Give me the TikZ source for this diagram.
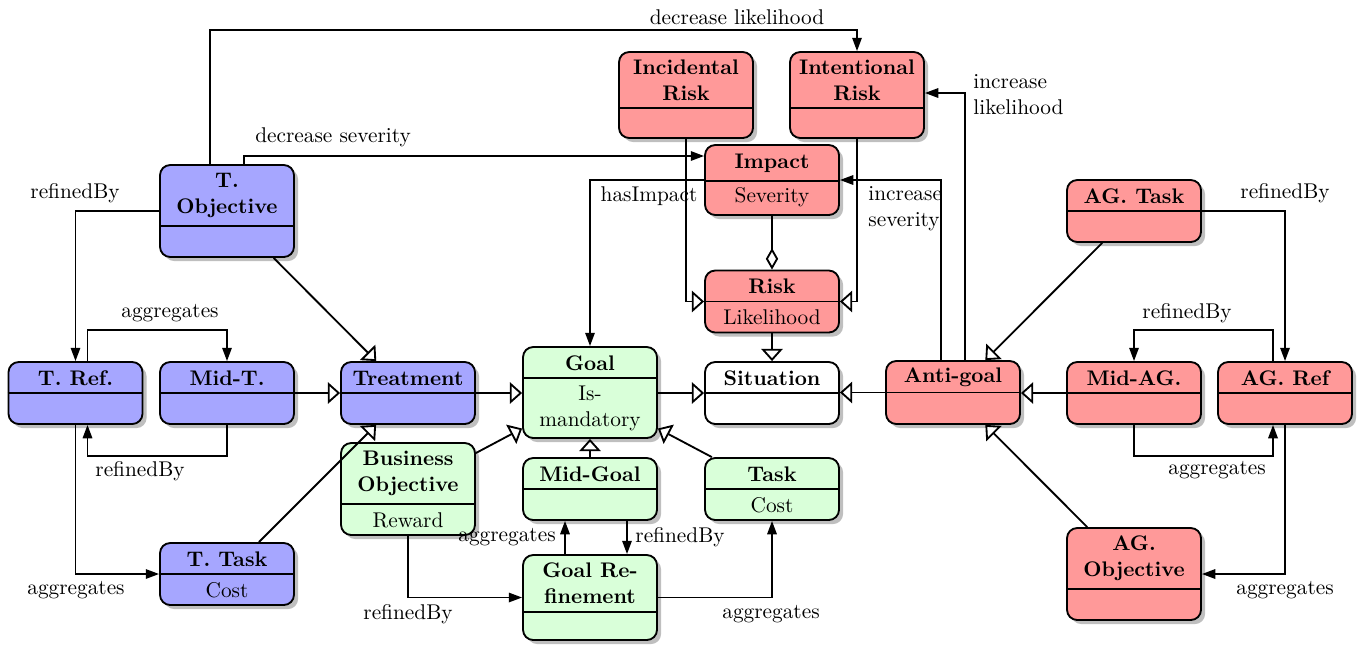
\documentclass[tikz,border=0pt]{standalone}
\usetikzlibrary{arrows.meta,shadows,calc}
\begin{document}
\begin{tikzpicture}[
 x=0.4878pt, y=-0.4878pt,
 every node/.append style={font=\fontsize{10.4}{12.6}\selectfont},
 ubox/.style={draw, line width=0.9pt, rounded corners=5pt, fill=#1, inner sep=0pt,
   drop shadow={shadow xshift=2pt, shadow yshift=-2pt, fill=black, opacity=0.25}},
 sz/.style 2 args={minimum width={#1*0.4878pt}, minimum height={#2*0.4878pt}},
 divl/.style={line width=0.9pt},
 ttl/.style={font=\fontsize{10.3}{12.6}\selectfont\bfseries, align=center, inner sep=0pt},
 attr/.style={align=center, inner sep=0pt},
 lbl/.style={inner sep=0pt},
 conn/.style={line width=0.9pt},
 arr/.style={conn, -{Triangle[length=6.5pt,width=4.6pt]}},
 gen/.style={conn, -{Triangle[length=6pt,width=10.5pt,fill=white]}},
 agg/.style={conn, -{Diamond[length=10.5pt,width=6pt,fill=white]}},
]
\useasboundingbox (0,0) rectangle (1369,646);

% ---------- boxes ----------
\node[ubox=blue!35, sz={134}{92}] (tobj) at (227,211) {};
\node[ubox=blue!35, sz={134}{62}] (tref) at (75.5,393) {};
\node[ubox=blue!35, sz={134}{62}] (midt) at (227,393) {};
\node[ubox=blue!35, sz={134}{62}] (treat) at (408,393) {};
\node[ubox=blue!35, sz={134}{62}] (ttask) at (227,574) {};

\node[ubox=green!15, sz={134}{91}] (goal) at (590,392.5) {};
\node[ubox=green!15, sz={134}{92}] (bo) at (408,489) {};
\node[ubox=green!15, sz={134}{62}] (midgoal) at (590,489) {};
\node[ubox=green!15, sz={134}{62}] (task) at (772,489) {};
\node[ubox=green!15, sz={134}{85}] (goalref) at (590,597.5) {};

\node[ubox=white, sz={134}{62}] (sit) at (772,393) {};

\node[ubox=red!40, sz={134}{86}] (incrisk) at (686,95) {};
\node[ubox=red!40, sz={134}{86}] (intrisk) at (857,95) {};
\node[ubox=red!40, sz={134}{70}] (impact) at (772,180) {};
\node[ubox=red!40, sz={134}{62}] (risk) at (772,301.5) {};
\node[ubox=red!40, sz={134}{62}] (agtask) at (1134,211) {};
\node[ubox=red!40, sz={134}{63}] (ag) at (953,392.5) {};
\node[ubox=red!40, sz={134}{62}] (midag) at (1134,393) {};
\node[ubox=red!40, sz={134}{62}] (agref) at (1285,393) {};
\node[ubox=red!40, sz={134}{92}] (agobj) at (1134,574) {};

% ---------- dividers ----------
\draw[divl] (tobj.west |- 0,226) -- (tobj.east |- 0,226);
\draw[divl] (tref.west) -- (tref.east);
\draw[divl] (midt.west) -- (midt.east);
\draw[divl] (treat.west) -- (treat.east);
\draw[divl] (ttask.west) -- (ttask.east);
\draw[divl] (goal.west |- 0,378) -- (goal.east |- 0,378);
\draw[divl] (bo.west |- 0,504) -- (bo.east |- 0,504);
\draw[divl] (midgoal.west) -- (midgoal.east);
\draw[divl] (task.west) -- (task.east);
\draw[divl] (goalref.west |- 0,612) -- (goalref.east |- 0,612);
\draw[divl] (sit.west) -- (sit.east);
\draw[divl] (incrisk.west |- 0,108) -- (incrisk.east |- 0,108);
\draw[divl] (intrisk.west |- 0,108) -- (intrisk.east |- 0,108);
\draw[divl] (impact.west |- 0,181) -- (impact.east |- 0,181);
\draw[divl] (risk.west) -- (risk.east);
\draw[divl] (agtask.west) -- (agtask.east);
\draw[divl] (ag.west) -- (ag.east);
\draw[divl] (midag.west) -- (midag.east);
\draw[divl] (agref.west) -- (agref.east);
\draw[divl] (agobj.west |- 0,589) -- (agobj.east |- 0,589);

% ---------- texts ----------
\node[ttl] (tobj-t) at (227,195.5) {T.\\Objective};
\node[ttl] (tref-t) at (75.5,378) {T. Ref.};
\node[ttl] (midt-t) at (227,378) {Mid-T.};
\node[ttl] (treat-t) at (408,378) {Treatment};
\node[ttl] (ttask-t) at (227,559) {T. Task};
\node[attr] (ttask-a) at (227,590) {Cost};
\node[ttl] (goal-t) at (590,363) {Goal};
\node[attr] (goal-a) at (590,408) {Is-\\mandatory};
\node[ttl] (bo-t) at (408,473.5) {Business\\Objective};
\node[attr] (bo-a) at (408,520) {Reward};
\node[ttl] (midgoal-t) at (590,474) {Mid-Goal};
\node[ttl] (task-t) at (772,474) {Task};
\node[attr] (task-a) at (772,505) {Cost};
\node[ttl] (goalref-t) at (590,583.5) {Goal Re-\\finement};
\node[ttl] (sit-t) at (772,378) {Situation};
\node[ttl] (incrisk-t) at (686,80) {Incidental\\Risk};
\node[ttl] (intrisk-t) at (857,80) {Intentional\\Risk};
\node[ttl] (impact-t) at (772,163) {Impact};
\node[attr] (impact-a) at (772,197) {Severity};
\node[ttl] (risk-t) at (772,286.5) {Risk};
\node[attr] (risk-a) at (772,317) {Likelihood};
\node[ttl] (agtask-t) at (1134,196) {AG. Task};
\node[ttl] (ag-t) at (953,377.5) {Anti-goal};
\node[ttl] (midag-t) at (1134,378) {Mid-AG.};
\node[ttl] (agref-t) at (1285,378) {AG. Ref};
\node[ttl] (agobj-t) at (1134,558.5) {AG.\\Objective};

% ---------- connectors ----------
\draw[arr] ($(tobj.north)+(-17,0)$) -- ++(0,-134) -| (intrisk.north);
\draw[arr] ($(tobj.north)+(17,0)$) |- ($(impact.west)+(0,-24)$);
\draw[arr] (tobj.west) -| (tref.north);
\draw[gen] (tobj) -- (treat);
\draw[gen] (ttask) -- (treat);
\draw[arr] ($(tref.north)+(12,0)$) -- ++(0,-31) -| (midt.north);
\draw[arr] (midt.south) -- ++(0,31) -| ($(tref.south)+(12,0)$);
\draw[arr] (tref.south) |- (ttask.west);
\draw[gen] (midt.east) -- (treat.west);
\draw[gen] (treat.east) -- (goal.west |- treat.east);
\draw[gen] (goal.east |- sit.west) -- (sit.west);
\draw[gen] (ag.west) -- (sit.east |- ag.west);
\draw[gen] (midag.west) -- (ag.east |- midag.west);
\draw[gen] (bo) -- (goal);
\draw[gen] (task) -- (goal);
\draw[gen] (midgoal) -- (goal);
\draw[arr] ($(goalref.north)+(-25,0)$) -- ($(midgoal.south)+(-25,0)$);
\draw[arr] ($(midgoal.south)+(37,0)$) -- ($(goalref.north)+(37,0)$);
\draw[arr] (bo.south) |- (goalref.west);
\draw[arr] (goalref.east) -| (task.south);
\draw[arr] (impact.west) -| (goal.north);
\draw[gen] (incrisk.south) |- (risk.west);
\draw[gen] (intrisk.south) |- (risk.east);
\draw[agg] (impact.south) -- (risk.north);
\draw[gen] (risk.south) -- (sit.north);
\draw[arr] ($(ag.north)+(12,0)$) |- ($(intrisk.east)+(0,-2)$);
\draw[arr] ($(ag.north)+(-12,0)$) |- (impact.east);
\draw[gen] (agtask) -- (ag);
\draw[gen] (agobj) -- (ag);
\draw[arr] (agtask.east) -| (agref.north);
\draw[arr] ($(agref.north)+(-12,0)$) -- ++(0,-31) -| (midag.north);
\draw[arr] (midag.south) -- ++(0,31) -| ($(agref.south)+(-12,0)$);
\draw[arr] (agref.south) |- (agobj.east);

% ---------- labels ----------
\node[lbl] (l1) at (737,17) {decrease likelihood};
\node[lbl] (l2) at (333,137) {decrease severity};
\node[lbl] (l3) at (75,193) {refinedBy};
\node[lbl] (l4) at (170,313) {aggregates};
\node[lbl] (l5) at (140,471) {refinedBy};
\node[lbl] (l6) at (76,590) {aggregates};
\node[lbl] (l7) at (649,196) {hasImpact};
\node[lbl, anchor=west, align=left] (l8) at (868,209) {increase\\severity};
\node[lbl, anchor=west, align=left] (l9) at (973,95) {increase\\likelihood};
\node[lbl] (l10) at (1285,193) {refinedBy};
\node[lbl] (l11) at (1187,313) {refinedBy};
\node[lbl] (l12) at (1217,470) {aggregates};
\node[lbl] (l13) at (1285,590) {aggregates};
\node[lbl] (l14) at (507,537) {aggregates};
\node[lbl] (l15) at (680,537) {refinedBy};
\node[lbl] (l16) at (408,614) {refinedBy};
\node[lbl] (l17) at (771,614) {aggregates};
\end{tikzpicture}
\end{document}
